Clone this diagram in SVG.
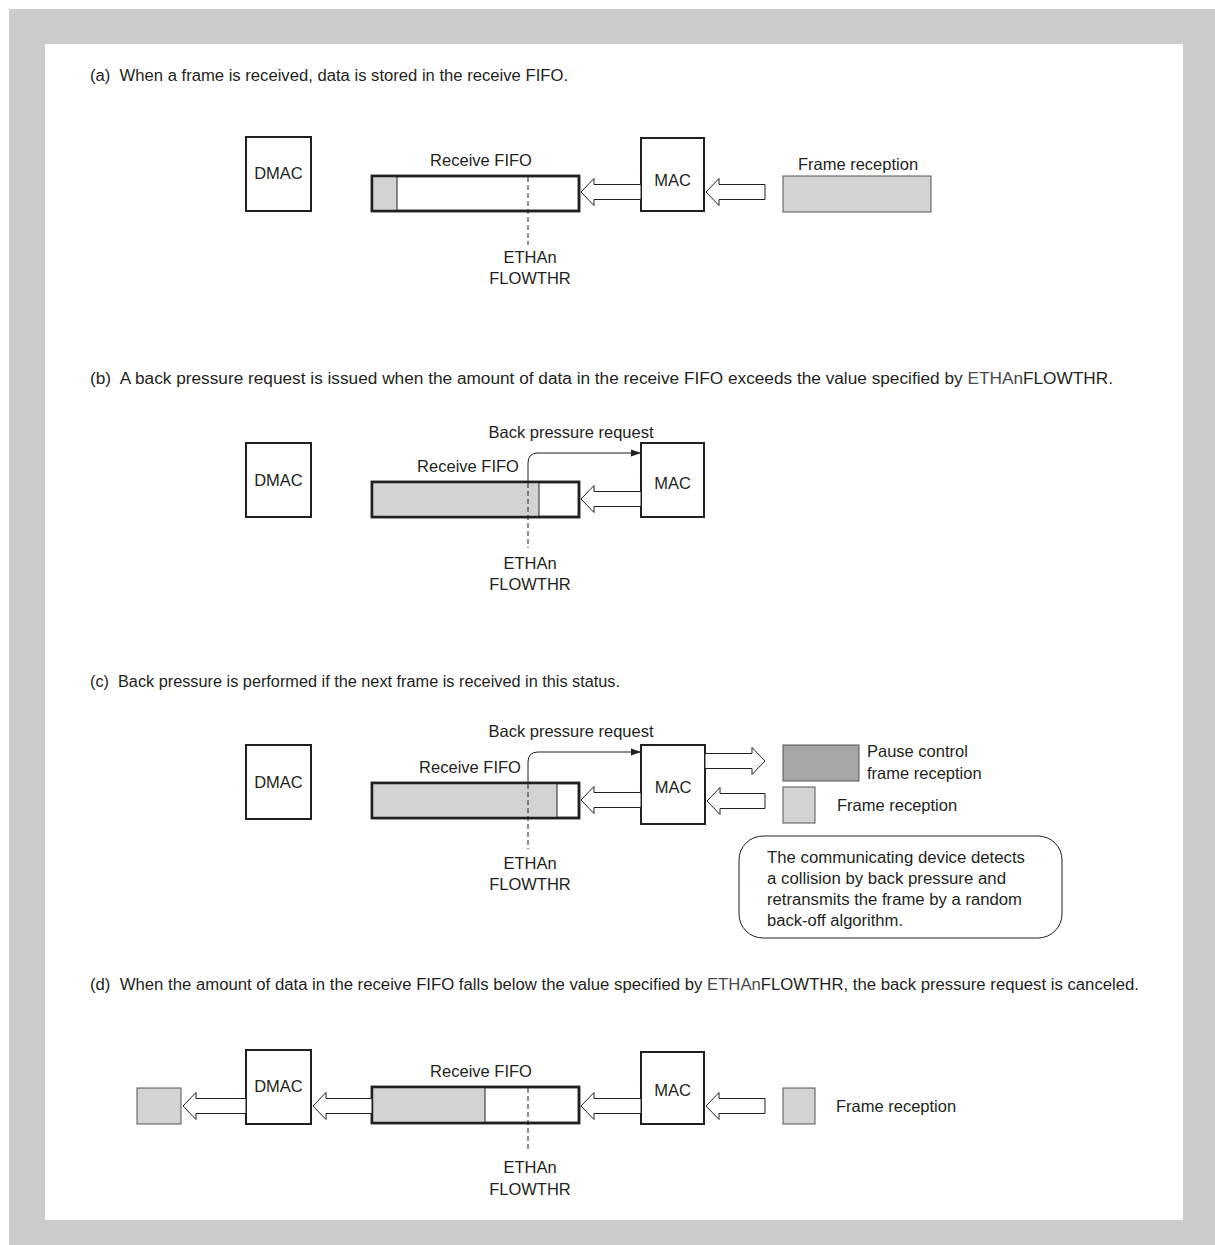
<svg xmlns="http://www.w3.org/2000/svg" width="1215" height="1245" viewBox="0 0 1215 1245">
  <defs>
    <style>
      text { font-family: "Liberation Sans", Arial, sans-serif; fill: #231f20; }
      .cap { font-size: 16px; }
      .lbl { font-size: 16.5px; }
      .mid { text-anchor: middle; }
      .box { fill: #ffffff; stroke: #231f20; stroke-width: 2; }
      .fifo { fill: #ffffff; stroke: #231f20; stroke-width: 2.5; }
      .fill { fill: #d3d3d3; stroke: #231f20; stroke-width: 1; }
      .frame { fill: #d3d3d3; stroke: #555555; stroke-width: 1; }
      .pause { fill: #a6a6a6; stroke: #555555; stroke-width: 1; }
      .harrow { fill: #ffffff; stroke: #231f20; stroke-width: 1; stroke-linejoin: miter; }
      .thr { stroke: #231f20; stroke-width: 1; stroke-dasharray: 5 3; fill: none; }
      .req { stroke: #231f20; stroke-width: 1; fill: none; }
      .note { fill: #ffffff; stroke: #231f20; stroke-width: 1; }
      .reg { fill: #4a4a4a; }
    </style>
    <marker id="tip" markerWidth="10" markerHeight="8" refX="9" refY="4" orient="auto" markerUnits="userSpaceOnUse">
      <path d="M0,0.5 L10,4 L0,7.5 Z" fill="#231f20"/>
    </marker>
  </defs>

  <!-- frame -->
  <rect x="9" y="9" width="1206" height="1236" fill="#cccccc"/>
  <rect x="45" y="44" width="1138" height="1176" fill="#ffffff"/>

  <!-- ===== (a) ===== -->
  <text class="cap" x="90" y="81" xml:space="preserve" textLength="478" lengthAdjust="spacingAndGlyphs">(a)  When a frame is received, data is stored in the receive FIFO.</text>
  <g id="a-dmac">
    <rect class="box" x="246" y="137" width="65" height="74"/>
    <text class="lbl mid" x="278.5" y="179">DMAC</text>
  </g>
  <g id="a-fifo">
    <text class="lbl mid" x="481" y="166">Receive FIFO</text>
    <rect class="fifo" x="372" y="176" width="207" height="35"/>
    <rect class="fill" x="372" y="176" width="25" height="35"/>
    <rect x="372" y="176" width="207" height="35" fill="none" stroke="#231f20" stroke-width="2.5"/>
  </g>
  <g id="a-mac">
    <rect class="box" x="641" y="138" width="63" height="73"/>
    <text class="lbl mid" x="672.5" y="186">MAC</text>
  </g>
  <g id="a-frame">
    <text class="lbl mid" x="858" y="170">Frame reception</text>
    <rect class="frame" x="783" y="176" width="148" height="36"/>
  </g>
  <g id="a-thr">
    <text class="lbl mid" x="530" y="263">ETHAn</text>
    <text class="lbl mid" x="530" y="284">FLOWTHR</text>
  </g>

  <!-- ===== (b) ===== -->
  <text class="cap" x="90" y="384" xml:space="preserve" textLength="1023" lengthAdjust="spacingAndGlyphs">(b)  A back pressure request is issued when the amount of data in the receive FIFO exceeds the value specified by <tspan class="reg">ETHAn</tspan>FLOWTHR.</text>
  <g id="b-dmac">
    <rect class="box" x="246" y="443" width="65" height="74"/>
    <text class="lbl mid" x="278.5" y="486">DMAC</text>
  </g>
  <g id="b-fifo">
    <text class="lbl mid" x="468" y="472">Receive FIFO</text>
    <rect class="fifo" x="372" y="482" width="207" height="35"/>
    <rect class="fill" x="372" y="482" width="167" height="35"/>
    <rect x="372" y="482" width="207" height="35" fill="none" stroke="#231f20" stroke-width="2.5"/>
  </g>
  <g id="b-mac">
    <rect class="box" x="641" y="443" width="63" height="74"/>
    <text class="lbl mid" x="672.5" y="489">MAC</text>
  </g>
  <g id="b-thr">
    <text class="lbl mid" x="571" y="438">Back pressure request</text>
    <text class="lbl mid" x="530" y="569">ETHAn</text>
    <text class="lbl mid" x="530" y="590">FLOWTHR</text>
  </g>

  <!-- ===== (c) ===== -->
  <text class="cap" x="90" y="687" xml:space="preserve" textLength="530" lengthAdjust="spacingAndGlyphs">(c)  Back pressure is performed if the next frame is received in this status.</text>
  <g id="c-dmac">
    <rect class="box" x="246" y="745" width="65" height="74"/>
    <text class="lbl mid" x="278.5" y="788">DMAC</text>
  </g>
  <g id="c-fifo">
    <text class="lbl mid" x="470" y="773">Receive FIFO</text>
    <rect class="fifo" x="372" y="783" width="207" height="35"/>
    <rect class="fill" x="372" y="783" width="185" height="35"/>
    <rect x="372" y="783" width="207" height="35" fill="none" stroke="#231f20" stroke-width="2.5"/>
  </g>
  <g id="c-mac">
    <rect class="box" x="641" y="745" width="64" height="79"/>
    <text class="lbl mid" x="673" y="793">MAC</text>
  </g>
  <g id="c-pause">
    <rect class="pause" x="783" y="745" width="76" height="36"/>
    <text class="lbl" x="867" y="757">Pause control</text>
    <text class="lbl" x="867" y="779">frame reception</text>
  </g>
  <g id="c-frame">
    <rect class="frame" x="783" y="787" width="32" height="36"/>
    <text class="lbl" x="837" y="811">Frame reception</text>
  </g>
  <g id="c-note">
    <rect class="note" x="739" y="836" width="323" height="102" rx="24" ry="24"/>
    <text class="cap" x="767" y="863" textLength="258" lengthAdjust="spacingAndGlyphs">The communicating device detects</text>
    <text class="cap" x="767" y="884" textLength="239" lengthAdjust="spacingAndGlyphs">a collision by back pressure and</text>
    <text class="cap" x="767" y="905" textLength="255" lengthAdjust="spacingAndGlyphs">retransmits the frame by a random</text>
    <text class="cap" x="767" y="926" textLength="136" lengthAdjust="spacingAndGlyphs">back-off algorithm.</text>
  </g>
  <g id="c-thr">
    <text class="lbl mid" x="571" y="737">Back pressure request</text>
    <text class="lbl mid" x="530" y="869">ETHAn</text>
    <text class="lbl mid" x="530" y="890">FLOWTHR</text>
  </g>

  <!-- ===== (d) ===== -->
  <text class="cap" x="90" y="990" xml:space="preserve" textLength="1049" lengthAdjust="spacingAndGlyphs">(d)  When the amount of data in the receive FIFO falls below the value specified by <tspan class="reg">ETHAn</tspan>FLOWTHR, the back pressure request is canceled.</text>
  <g id="d-out">
    <rect class="frame" x="137" y="1088" width="44" height="36"/>
  </g>
  <g id="d-dmac">
    <rect class="box" x="246" y="1050" width="65" height="74"/>
    <text class="lbl mid" x="278.5" y="1092">DMAC</text>
  </g>
  <g id="d-fifo">
    <text class="lbl mid" x="481" y="1077">Receive FIFO</text>
    <rect class="fifo" x="372" y="1087" width="207" height="36"/>
    <rect class="fill" x="372" y="1087" width="113" height="36"/>
    <rect x="372" y="1087" width="207" height="36" fill="none" stroke="#231f20" stroke-width="2.5"/>
  </g>
  <g id="d-mac">
    <rect class="box" x="641" y="1052" width="63" height="72"/>
    <text class="lbl mid" x="672.5" y="1096">MAC</text>
  </g>
  <g id="d-frame">
    <rect class="frame" x="783" y="1088" width="32" height="36"/>
    <text class="lbl" x="836" y="1112">Frame reception</text>
  </g>
  <g id="d-thr">
    <text class="lbl mid" x="530" y="1173">ETHAn</text>
    <text class="lbl mid" x="530" y="1195">FLOWTHR</text>
  </g>

  <!-- connectors -->
  <g id="connectors">
    <!-- threshold marks -->
    <line class="thr" x1="528" y1="177" x2="528" y2="245"/>
    <line class="thr" x1="528" y1="483" x2="528" y2="548"/>
    <line class="thr" x1="528" y1="784" x2="528" y2="849"/>
    <line class="thr" x1="528" y1="1088" x2="528" y2="1152"/>

    <!-- back pressure request lines -->
    <path class="req" d="M528,482 V463 Q528,453 538,453 H640" marker-end="url(#tip)"/>
    <path class="req" d="M528,783 V762 Q528,752 538,752 H640" marker-end="url(#tip)"/>

    <!-- (a) data flow -->
    <path class="harrow" d="M641,184.5 H594 V178.5 L581,192 L594,205.5 V199.5 H641 Z"/>
    <path class="harrow" d="M765,184.5 H719 V178.5 L706,192 L719,205.5 V199.5 H765 Z"/>

    <!-- (b) data flow -->
    <path class="harrow" d="M641,491.5 H594 V485.5 L581,499 L594,512.5 V506.5 H641 Z"/>

    <!-- (c) data flow -->
    <path class="harrow" d="M641,792.5 H594 V786.5 L581,800 L594,813.5 V807.5 H641 Z"/>
    <path class="harrow" d="M765,793.5 H720 V787.5 L707,801 L720,814.5 V808.5 H765 Z"/>
    <path class="harrow" d="M705,753.5 H752 V747.5 L765,761 L752,774.5 V768.5 H705 Z"/>

    <!-- (d) data flow -->
    <path class="harrow" d="M641,1098.5 H594 V1092.5 L581,1106 L594,1119.5 V1113.5 H641 Z"/>
    <path class="harrow" d="M765,1098.5 H719 V1092.5 L706,1106 L719,1119.5 V1113.5 H765 Z"/>
    <path class="harrow" d="M372,1098.5 H326 V1092.5 L313,1106 L326,1119.5 V1113.5 H372 Z"/>
    <path class="harrow" d="M246,1098.5 H196 V1092.5 L183,1106 L196,1119.5 V1113.5 H246 Z"/>
  </g>
</svg>
